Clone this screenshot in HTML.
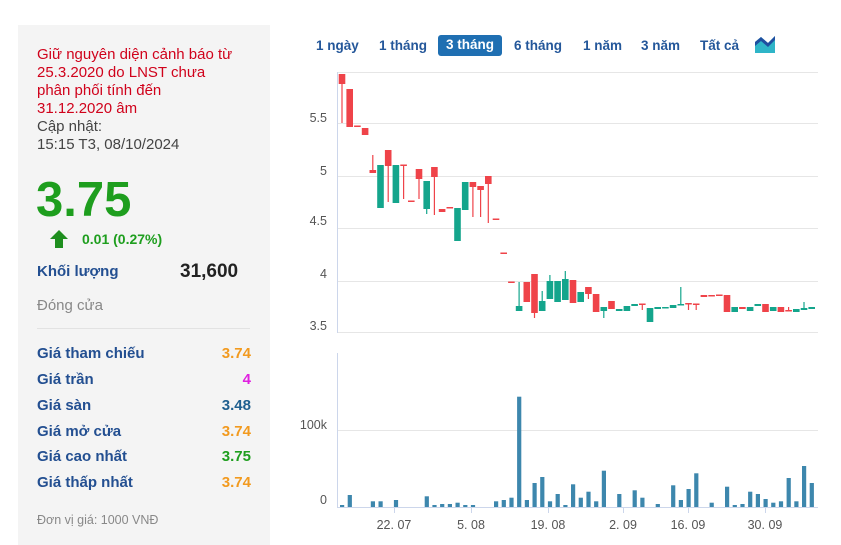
<!DOCTYPE html>
<html><head><meta charset="utf-8">
<style>
*{margin:0;padding:0;box-sizing:border-box}
body{width:841px;height:545px;background:#fff;font-family:"Liberation Sans",Arial,sans-serif;position:relative;overflow:hidden}
.p{position:absolute;white-space:nowrap}
#left{position:absolute;left:18px;top:25px;width:252px;height:520px;background:#f4f4f4}
.red{color:#d0021b;font-size:15px;line-height:18px}
.gr{color:#444;font-size:15px;line-height:18px}
.lab{color:#234f91;font-weight:bold;font-size:15px;left:37px}
.val{font-weight:bold;font-size:15px;right:590px;text-align:right}
.btn{position:absolute;top:36px;font-size:13.5px;font-weight:bold;color:#24579a;line-height:20px}
</style></head><body>
<div id="left"></div>
<div class="p red" style="left:37px;top:46px">Giữ nguyên diện cảnh báo từ<br>25.3.2020 do LNST chưa<br>phân phối tính đến<br>31.12.2020 âm</div>
<div class="p gr" style="left:37px;top:118px">Cập nhật:<br>15:15 T3, 08/10/2024</div>
<div class="p" style="left:36px;top:175px;font-size:49px;font-weight:bold;color:#1e9e1e;line-height:51px">3.75</div>
<svg class="p" style="left:49px;top:229px" width="20" height="20"><polygon points="10,1 19,10 14,10 14,19 6,19 6,10 1,10" fill="#1e8e1e"/></svg>
<div class="p" style="left:82px;top:231px;font-size:14px;font-weight:bold;color:#1e9e1e">0.01 (0.27%)</div>
<div class="p lab" style="top:263px">Khối lượng</div>
<div class="p" style="left:180px;top:261px;font-size:19px;font-weight:bold;color:#222">31,600</div>
<div class="p" style="left:37px;top:297px;font-size:15px;color:#888">Đóng cửa</div>
<div class="p" style="left:37px;top:328px;width:213px;height:1px;background:#e2e2e2"></div>
<div class="p lab" style="top:345px">Giá tham chiếu</div><div class="p val" style="top:345px;color:#f29a1f">3.74</div>
<div class="p lab" style="top:371px">Giá trần</div><div class="p val" style="top:371px;color:#e020e0">4</div>
<div class="p lab" style="top:397px">Giá sàn</div><div class="p val" style="top:397px;color:#1f5f8f">3.48</div>
<div class="p lab" style="top:423px">Giá mở cửa</div><div class="p val" style="top:423px;color:#f29a1f">3.74</div>
<div class="p lab" style="top:448px">Giá cao nhất</div><div class="p val" style="top:448px;color:#1e9e1e">3.75</div>
<div class="p lab" style="top:474px">Giá thấp nhất</div><div class="p val" style="top:474px;color:#f29a1f">3.74</div>
<div class="p" style="left:37px;top:513px;font-size:12.5px;color:#888">Đơn vị giá: 1000 VNĐ</div>

<div class="btn" style="left:316px">1 ngày</div>
<div class="btn" style="left:379px">1 tháng</div>
<div class="btn" style="left:438px;width:64px;height:21px;top:35px;background:#1f6fb2;color:#fff;border-radius:3px;text-align:center">3 tháng</div>
<div class="btn" style="left:514px">6 tháng</div>
<div class="btn" style="left:583px">1 năm</div>
<div class="btn" style="left:641px">3 năm</div>
<div class="btn" style="left:700px">Tất cả</div>
<svg class="p" style="left:754px;top:34px" width="22" height="20"><polygon points="1,19 1,8 7,3 14,9 21,2 21,19" fill="#2fb5c8"/><polygon points="1,12 1,8 7,3 14,9 21,2 21,6 14,13 7,7" fill="#1f4fa0"/></svg>

<svg id="c" class="p" style="left:0;top:0" width="841" height="545"></svg>
<script>
var s='';
function L(x1,y1,x2,y2,c,w){s+='<line x1="'+x1+'" y1="'+y1+'" x2="'+x2+'" y2="'+y2+'" stroke="'+c+'" stroke-width="'+(w||1)+'"/>';}
function R(x,y,w,h,c){s+='<rect x="'+x+'" y="'+y+'" width="'+w+'" height="'+h+'" fill="'+c+'"/>';}
function T(x,y,t,a){s+='<text x="'+x+'" y="'+y+'" font-size="12.5" fill="#555" text-anchor="'+(a||'end')+'" font-family="Liberation Sans,sans-serif">'+t+'</text>';}
[72,123,176,228,281].forEach(function(y){L(337,y+.5,818,y+.5,'#e6e6e6');});
L(337,332.5,818,332.5,'#e6e6e6');
L(337.5,72,337.5,333,'#ccd6eb');
T(327,122,'5.5');T(327,175,'5');T(327,225,'4.5');T(327,278,'4');T(327,330,'3.5');
L(337,430.5,818,430.5,'#e6e6e6');
L(337.5,353,337.5,507,'#ccd6eb');
L(337,507.5,818,507.5,'#ccd6eb');
T(327,429,'100k');T(327,504,'0');
[[394,'22. 07'],[471,'5. 08'],[548,'19. 08'],[623,'2. 09'],[688,'16. 09'],[765,'30. 09']].forEach(function(a){L(a[0]+.5,507,a[0]+.5,513,'#ccd6eb');T(a[0],529,a[1],'middle');});
var R_='#ef4349',G='#14a58c';
var c=[[0,'r',74,84,74,123],[1,'r',89,127],[2,'r',125.5,126.5],[3,'r',128,135],[4,'r',170,173,155,173],[5,'g',165,208],[6,'r',150,166,150,202],[7,'g',165,203],[8,'r',164.5,165.5,165,199],[9,'r',200.5,201.5],[10,'r',169,179,169,199],[11,'g',181,209,181,214],[12,'r',167,177,167,215],[13,'r',209,212],[14,'r',207,208.5],[15,'g',208,241],[16,'g',182,210],[17,'r',182,187,182,217],[18,'r',186,190,186,217],[19,'r',176,184,176,223],[20,'r',218.5,219.5],[21,'r',252.5,253.5],[22,'r',281.5,282.5],[23,'g',306,311,282,311],[24,'r',282,302],[25,'r',274,313,274,318],[26,'g',301,311,291,311],[27,'g',281,299,275,299],[28,'g',281,302],[29,'g',279,300,271,300],[30,'r',280,303],
[31,'g',292,302],[32,'r',287,294,287,299],[33,'r',294,312],[34,'g',307,311,307,318],[35,'r',301,309],[36,'g',309,311],[37,'g',306,311],[38,'g',304,306],[39,'r',303.5,305,304,310],[40,'g',308,322],[41,'g',307,309],[42,'g',307,308],[43,'g',305,308],[44,'g',304,305.5,287,305],[45,'r',303,304.5,303,310],[46,'r',303.5,305,304,310],[47,'r',295,297],[48,'r',295,296],[49,'r',294.5,295.5],[50,'r',295,312],[51,'g',307,312],[52,'r',307,309],[53,'g',307,311],[54,'g',304,306],[55,'r',304,312],[56,'g',307,311],[57,'r',307,312],[58,'r',310,311,307,311],[59,'g',309,312],[60,'g',308,310,302,310],[61,'g',307,309]];
c.forEach(function(d){var x=342+d[0]*7.7,col=d[1]=='r'?R_:G;
 if(d[4]!==undefined)L(x,d[4],x,d[5],col,1.2);
 R(x-3.3,d[2],6.6,Math.max(1.5,d[3]-d[2]),col);});
var v=[[0,505],[1,495],[4,501.3],[5,501.3],[7,500],[11,496.3],[12,505],[13,504],[14,504],[15,502.7],[16,505],[17,505],[20,501.3],[21,500],[22,497.7],[23,396.7],[24,500],[25,483],[26,477],[27,501.3],[28,494],[29,505],[30,484.3],[31,497.7],[32,491.7],[33,501.3],[34,470.7],[36,494],[38,490.3],[39,497.7],[41,504],[43,485.3],[44,500],[45,489],[46,473.3],[48,502.7],[50,486.7],[51,505],[52,504],[53,491.7],[54,494],[55,499],[56,502.7],[57,501.3],[58,478],[59,501.3],[60,466],[61,483]];
v.forEach(function(d){var x=342+d[0]*7.7;R(x-2,d[1],4.2,507-d[1],'#3d87ad');});
document.getElementById('c').innerHTML=s;
</script>
</body></html>
